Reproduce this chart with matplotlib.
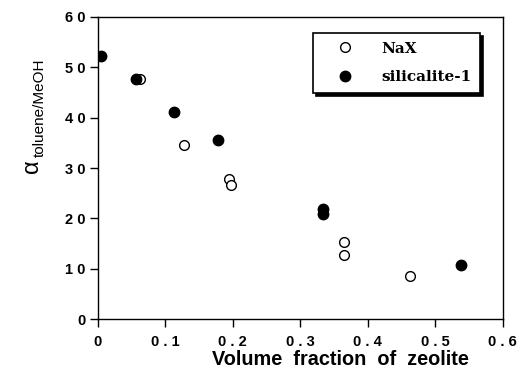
import matplotlib
matplotlib.use("Agg")
import matplotlib.pyplot as plt

# Data
nax_x = [0.063, 0.127, 0.194, 0.198, 0.365, 0.365, 0.463]
nax_y = [47.7, 34.5, 27.8, 26.7, 15.4, 12.7, 8.5]
sil_x = [0.005, 0.057, 0.113, 0.178, 0.333, 0.333, 0.538]
sil_y = [52.2, 47.7, 41.1, 35.6, 21.8, 20.9, 10.8]

xticks = [0, 0.1, 0.2, 0.3, 0.4, 0.5, 0.6]
xlabels = ["0", "0 . 1", "0 . 2", "0 . 3", "0 . 4", "0 . 5", "0 . 6"]
yticks = [0, 10, 20, 30, 40, 50, 60]
ylabels = ["0", "1 0", "2 0", "3 0", "4 0", "5 0", "6 0"]

sans = "Liberation Sans"
serif = "DejaVu Serif"

fig = plt.figure(figsize=(5.2, 3.73), dpi=100)
ax = fig.add_axes([0.188, 0.144, 0.779, 0.811])

ax.plot(nax_x, nax_y, linestyle="none", marker="o", markersize=7,
        markerfacecolor="white", markeredgecolor="black", markeredgewidth=1.0,
        label="NaX", zorder=3)
ax.plot(sil_x, sil_y, linestyle="none", marker="o", markersize=7.5,
        markerfacecolor="black", markeredgecolor="black",
        label="silicalite-1", zorder=3)

ax.set_xlim(0, 0.6)
ax.set_ylim(0, 60)
ax.set_xticks(xticks)
ax.set_xticklabels(xlabels, fontfamily=sans, fontweight="bold", fontsize=10.5)
ax.set_yticks(yticks)
ax.set_yticklabels(ylabels, fontfamily=sans, fontweight="bold", fontsize=10.5)
ax.tick_params(direction="out", length=6, width=1.0, pad=3)
ax.tick_params(axis="x", pad=5)
for s in ax.spines.values():
    s.set_linewidth(1.0)

ax.set_xlabel("Volume  fraction  of  zeolite", fontfamily=sans,
              fontweight="bold", fontsize=14.3)
ax.xaxis.set_label_coords(0.598, -0.1)

# y label: alpha with subscript, rotated
fig.text(0.062, 0.555, "α", rotation=90, fontsize=17, fontfamily=sans,
         ha="center", va="center")
fig.text(0.077, 0.578, "toluene/MeOH", rotation=90, fontsize=11,
         fontfamily=sans, ha="center", va="bottom")

leg = ax.legend(loc="upper left", bbox_to_anchor=(0.532, 0.945),
                prop={"family": serif, "weight": "bold", "size": 11},
                frameon=True, fancybox=False, shadow={"color": "black", "alpha": 1},
                edgecolor="black", handletextpad=0.9, borderpad=0.55,
                labelspacing=0.95, handlelength=3.0, borderaxespad=0)
leg.get_frame().set_linewidth(1.2)

fig.savefig("out.png", dpi=100)
